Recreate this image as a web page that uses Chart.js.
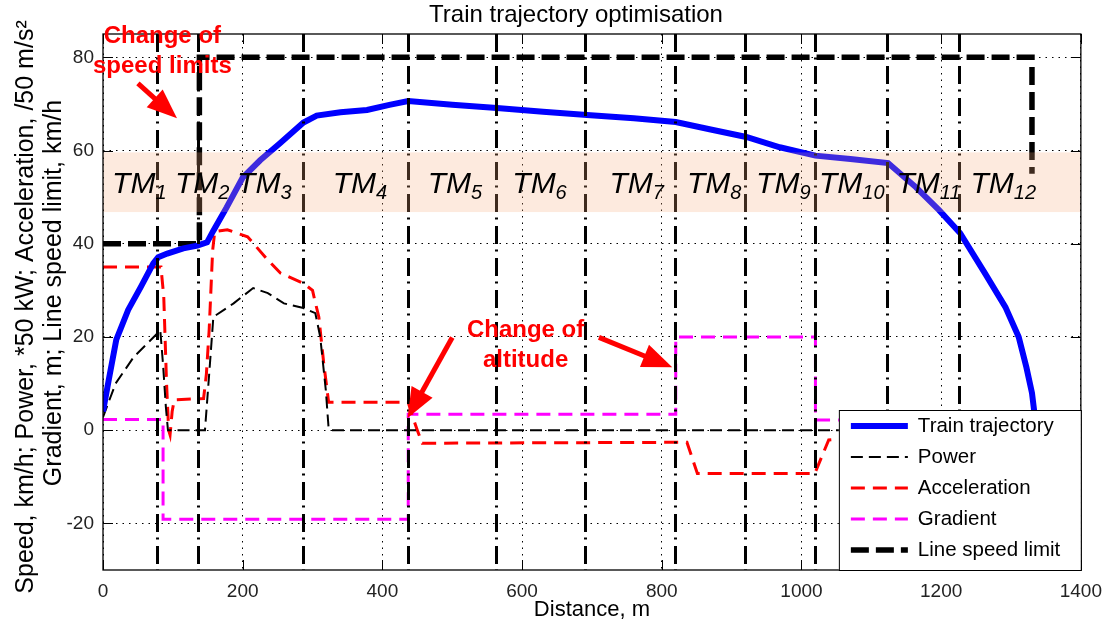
<!DOCTYPE html>
<html lang="en">
<head>
<meta charset="UTF-8">
<title>Train trajectory optimisation</title>
<script src="https://cdn.jsdelivr.net/npm/chart.js"></script>
<style>
  html, body { margin: 0; padding: 0; background: #fff; }
</style>
</head>
<body>
<canvas id="trajChart" width="1112" height="635"></canvas>
<script>
// [distance m, value] pairs
const trajectory = [[0,4],[9,11.4],[19,19.4],[36,25.8],[54,30.7],[72,35.8],[79,37.1],[92,37.9],[115,39],[135,39.6],
  [149,40.3],[158,42.8],[177,47.8],[200,54.2],[225,57.9],[253,61.5],[287,66],[306,67.5],[340,68.2],[378,68.7],
  [410,69.8],[437,70.6],[500,69.8],[564,69.1],[630,68.3],[693,67.6],[760,66.9],[820,66.1],[870,64.5],[921,62.9],
  [969,60.7],[1020,58.9],[1070,58.2],[1124,57.3],[1164,52.1],[1197,47.2],[1227,42.3],[1263,33.6],[1292,26.4],
  [1311,20],[1322,13.5],[1330,8],[1333,4.3],[1335,0]];
const power = [[0,2.8],[18,10],[44,15.7],[78,20.8],[82,21.5],[86,14],[90,5],[93,0],[146,0],[152,12],[158,24.3],
  [187,27.2],[215,30.5],[236,29.4],[259,27.2],[287,26.2],[304,25.1],[311,20],[319,8.6],[323,0.4],[326,0],[1335,0]];
const acceleration = [[0,35],[83,35],[87,28.6],[91,10],[94,0],[96,-1],[99,4],[102,6.5],[144,6.8],[148,12],[152,21.5],
  [157,38.6],[160,42.6],[178,43],[207,41.5],[236,36.5],[254,33.7],[287,31.5],[300,30],[303,28],[309,24.3],
  [316,14.4],[323,6],[437,6],[443,3],[450,0],[457,-2.8],[836,-2.6],[851,-9.3],[1019,-9.3],[1039,-2.1],[1060,-1.8]];
const gradient = [[0,2.3],[86,2.3],[86,-19.1],[437,-19.1],[437,3.4],[820,3.4],[820,20],[1020,20],[1020,2.2],[1060,2.2]];
const speedLimit = [[0,40],[138,40],[138,80],[1330,80],[1330,55]];

// time-mark boundaries and labels
const tmBounds = [78, 136, 286, 436, 563, 690, 819, 919, 1019, 1123, 1226];
const tmLabels = ['1','2','3','4','5','6','7','8','9','10','11','12'];
const tmLabelX = [13, 103, 192, 329, 465, 586, 725, 836, 935, 1025, 1136, 1242];
const tmLabelY = 50.8;
const tmBand = [46.8, 59.6];

const xTicks = [0, 200, 400, 600, 800, 1000, 1200, 1400];
const yTicks = [-20, 0, 20, 40, 60, 80];

const FONT = "'Liberation Sans', Arial, sans-serif";
const RED = '#ff0000';
const toXY = arr => arr.map(p => ({ x: p[0], y: p[1] }));

const yTitle = ['Speed, km/h; Power, *50 kW; Acceleration, /50 m/s\u00b2', 'Gradient, m; Line speed limit, km/h'];

// red call-outs, in data units
const notes = [
  { lines: ['Change of', 'speed limits'], x: 85, y: [84.4, 78] },
  { lines: ['Change of', 'altitude'], x: 605, y: [21.4, 15] }
];
const arrows = [
  [50, 74.4, 106, 66.9],
  [500, 19.9, 436, 2.6],
  [710, 19.9, 815, 13.5]
];

function seg(ctx, x0, y0, x1, y1) {
  ctx.beginPath(); ctx.moveTo(x0, y0); ctx.lineTo(x1, y1); ctx.stroke();
}

function arrow(ctx, x0, y0, x1, y1) {
  const ang = Math.atan2(y1 - y0, x1 - x0), hl = 30, hw = 12;
  const c = Math.cos(ang), s = Math.sin(ang);
  const bx = x1 - hl * c, by = y1 - hl * s;
  ctx.lineWidth = 5; ctx.setLineDash([]);
  seg(ctx, x0, y0, bx + 4 * c, by + 4 * s);
  ctx.beginPath();
  ctx.moveTo(x1, y1);
  ctx.lineTo(bx + hw * s, by - hw * c);
  ctx.lineTo(bx - hw * s, by + hw * c);
  ctx.closePath(); ctx.fill();
}

const overlay = {
  id: 'overlay',
  afterDatasetsDraw(chart) {
    const { ctx, chartArea: a, scales: { x, y } } = chart;

    // TM boundaries + shaded strip
    ctx.save();
    ctx.beginPath(); ctx.rect(a.left, a.top, a.width, a.height); ctx.clip();
    ctx.strokeStyle = '#000'; ctx.lineWidth = 3; ctx.lineCap = 'butt';
    ctx.setLineDash([18, 5.5, 2, 6.5]);
    tmBounds.forEach(v => {
      const px = Math.round(x.getPixelForValue(v)) + 0.5;
      seg(ctx, px, a.top, px, a.bottom);
    });
    ctx.setLineDash([]);
    const yTop = y.getPixelForValue(tmBand[1]), yBot = y.getPixelForValue(tmBand[0]);
    ctx.fillStyle = 'rgba(247,171,123,0.25)';
    ctx.fillRect(a.left, yTop, a.width, yBot - yTop);

    // TM labels
    ctx.fillStyle = '#000'; ctx.textAlign = 'left'; ctx.textBaseline = 'alphabetic';
    tmLabels.forEach((n, i) => {
      const px = x.getPixelForValue(tmLabelX[i]), py = y.getPixelForValue(tmLabelY);
      ctx.font = 'italic 30px ' + FONT;
      ctx.fillText('TM', px, py);
      const w = ctx.measureText('TM').width;
      ctx.font = 'italic 20px ' + FONT;
      ctx.fillText(n, px + w, py + 6);
    });
    ctx.restore();

    // axes box with inward ticks
    ctx.save();
    ctx.strokeStyle = '#000'; ctx.lineWidth = 1.3;
    ctx.strokeRect(a.left, a.top, a.width, a.height);
    ctx.lineWidth = 1;
    xTicks.forEach(v => {
      const px = Math.round(x.getPixelForValue(v)) + 0.5;
      seg(ctx, px, a.bottom, px, a.bottom - 10);
      seg(ctx, px, a.top, px, a.top + 10);
    });
    yTicks.forEach(v => {
      const py = Math.round(y.getPixelForValue(v)) + 0.5;
      seg(ctx, a.left, py, a.left + 10, py);
      seg(ctx, a.right, py, a.right - 10, py);
    });

    // legend
    const lw = 242, lh = 160;
    const lx = a.right - lw, ly = a.bottom - lh;
    ctx.fillStyle = '#fff';
    ctx.fillRect(lx, ly, lw, lh);
    ctx.strokeRect(lx + 0.5, ly + 0.5, lw, lh);
    chart.data.datasets.forEach((ds, i) => {
      const ry = ly + 16 + i * 31;
      ctx.strokeStyle = ds.borderColor; ctx.lineWidth = ds.borderWidth;
      ctx.setLineDash(ds.borderDash || []);
      seg(ctx, lx + 12, ry, lx + 69, ry);
      ctx.setLineDash([]);
      ctx.fillStyle = '#000'; ctx.font = '20.5px ' + FONT;
      ctx.textAlign = 'left'; ctx.textBaseline = 'middle';
      ctx.fillText(ds.label, lx + 79, ry);
    });

    // call-outs
    ctx.fillStyle = RED; ctx.strokeStyle = RED;
    ctx.font = 'bold 24px ' + FONT; ctx.textAlign = 'center'; ctx.textBaseline = 'middle';
    notes.forEach(n => {
      n.lines.forEach((t, k) => ctx.fillText(t, x.getPixelForValue(n.x), y.getPixelForValue(n.y[k])));
    });
    arrows.forEach(r => arrow(ctx, x.getPixelForValue(r[0]), y.getPixelForValue(r[1]),
                                   x.getPixelForValue(r[2]), y.getPixelForValue(r[3])));

    // title
    ctx.fillStyle = '#000'; ctx.font = '24px ' + FONT;
    ctx.textAlign = 'center'; ctx.textBaseline = 'alphabetic';
    ctx.fillText('Train trajectory optimisation', 576, 22);

    // y-axis title, two centred lines
    ctx.font = '25px ' + FONT; ctx.textBaseline = 'middle';
    [[26, 307], [54, 293]].forEach((p, k) => {
      ctx.save();
      ctx.translate(p[0], p[1]); ctx.rotate(-Math.PI / 2);
      ctx.fillText(yTitle[k], 0, 0);
      ctx.restore();
    });
    ctx.restore();
  }
};

const axisTicks = { color: '#222', font: { family: FONT, size: 19 }, autoSkip: false, maxRotation: 0,
                    callback: v => String(v) };

new Chart(document.getElementById('trajChart').getContext('2d'), {
  type: 'line',
  data: {
    datasets: [
      { label: 'Train trajectory', data: toXY(trajectory), borderColor: '#0000ff', borderWidth: 6, borderDash: [] },
      { label: 'Power', data: toXY(power), borderColor: '#000000', borderWidth: 2, borderDash: [12, 6] },
      { label: 'Acceleration', data: toXY(acceleration), borderColor: RED, borderWidth: 3, borderDash: [14, 8] },
      { label: 'Gradient', data: toXY(gradient), borderColor: '#ff00ff', borderWidth: 3, borderDash: [14, 8] },
      { label: 'Line speed limit', data: toXY(speedLimit), borderColor: '#000000', borderWidth: 5.5, borderDash: [18, 7] }
    ]
  },
  options: {
    responsive: false,
    animation: false,
    layout: { padding: { top: 34, right: 29.5, bottom: 0, left: 0 } },
    elements: { point: { radius: 0 }, line: { tension: 0, fill: false, borderCapStyle: 'butt' } },
    plugins: { legend: { display: false }, title: { display: false }, tooltip: { enabled: false } },
    scales: {
      x: {
        type: 'linear', min: 0, max: 1400,
        afterBuildTicks: s => { s.ticks = xTicks.map(v => ({ value: v })); },
        afterFit: s => { s.height = 65; },
        grid: { color: '#000', lineWidth: 1, drawTicks: false },
        border: { display: false, dash: [1.5, 5] },
        ticks: Object.assign({ padding: 10 }, axisTicks),
        title: { display: true, text: 'Distance, m', color: '#000',
                 font: { family: FONT, size: 22 }, padding: { top: 0, bottom: 12 } }
      },
      y: {
        type: 'linear', min: -30, max: 85,
        afterBuildTicks: s => { s.ticks = yTicks.map(v => ({ value: v })); },
        afterFit: s => { s.width = 103; },
        grid: { color: '#000', lineWidth: 1, drawTicks: false },
        border: { display: false, dash: [1.5, 5] },
        ticks: Object.assign({ padding: 9 }, axisTicks),
        title: { display: false }
      }
    }
  },
  plugins: [overlay]
});
</script>
</body>
</html>
